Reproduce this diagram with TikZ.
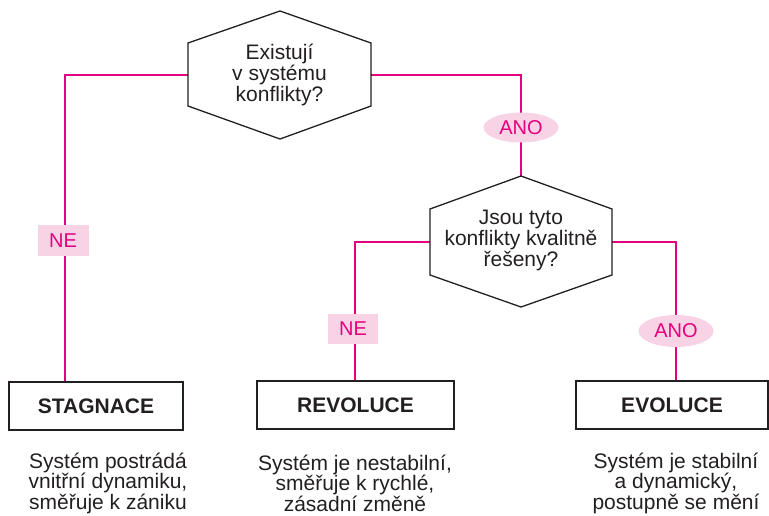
\documentclass[tikz,border=0pt]{standalone}
\usepackage{fontspec}
\setmainfont{Liberation Sans}
\usetikzlibrary{shapes.geometric}
\definecolor{mag}{HTML}{E5007D}
\definecolor{pinkfill}{HTML}{F8D3E6}
\definecolor{ink}{HTML}{231F20}
\begin{document}
\begin{tikzpicture}[x=1pt,y=-1pt,
  conn/.style={draw=mag, line width=1.6pt},
  hexa/.style={draw=ink, line width=1.3pt, line join=miter},
  qtext/.style={align=center, font=\fontsize{21}{21}\selectfont, text=ink, inner sep=0pt},
  result/.style={draw=ink, line width=1.5pt, minimum height=48pt, inner sep=0pt, font=\fontsize{21}{25}\selectfont\bfseries, text=ink},
  desc/.style={align=center, font=\fontsize{21}{20.5}\selectfont, text=ink, inner sep=0pt},
  nolab/.style={fill=pinkfill, text=mag, font=\fontsize{20}{24}\selectfont, minimum width=51pt, minimum height=31pt, inner sep=0pt},
  yeslab/.style={ellipse, fill=pinkfill, text=mag, font=\fontsize{20}{24}\selectfont, minimum width=75pt, minimum height=30pt, inner sep=0pt},
]
\useasboundingbox (0,0) rectangle (769,515);
% hexagon 1
\coordinate (h1t) at (280,11);
\coordinate (h1ne) at (371,43);
\coordinate (h1se) at (371,106);
\coordinate (h1b) at (280,139);
\coordinate (h1sw) at (188,106);
\coordinate (h1nw) at (188,43);
\coordinate (h1w) at (188,75);
\coordinate (h1e) at (371,75);
% hexagon 2
\coordinate (h2t) at (521,176);
\coordinate (h2ne) at (612,209);
\coordinate (h2se) at (612,275);
\coordinate (h2b) at (521,307);
\coordinate (h2sw) at (430,275);
\coordinate (h2nw) at (430,209);
\coordinate (h2w) at (430,242);
\coordinate (h2e) at (612,242);
% corner coordinates of connectors
\coordinate (c1) at (65,75);
\coordinate (c2) at (521,75);
\coordinate (c3) at (355,242);
\coordinate (c4) at (676,242);
% result boxes
\node[result, minimum width=174pt] (stag) at (96,406) {STAGNACE};
\node[result, minimum width=197pt] (rev) at (355.5,405) {REVOLUCE};
\node[result, minimum width=192pt] (evo) at (672,405) {EVOLUCE};
% connectors
\draw[conn] (h1w) -- (c1) -- (c1 |- stag.north);
\draw[conn] (h1e) -- (c2) -- (h2t);
\draw[conn] (h2w) -- (c3) -- (c3 |- rev.north);
\draw[conn] (h2e) -- (c4) -- (c4 |- evo.north);
% hexagons
\draw[hexa] (h1t) -- (h1ne) -- (h1se) -- (h1b) -- (h1sw) -- (h1nw) -- cycle;
\draw[hexa] (h2t) -- (h2ne) -- (h2se) -- (h2b) -- (h2sw) -- (h2nw) -- cycle;
\node[qtext] (q1) at (279.5,75) {Existují\\v systému\\konflikty?};
\node[qtext] (q2) at (521,240) {Jsou tyto\\konflikty kvalitně\\řešeny?};
% labels
\node[nolab] (ne1) at (63,240.5) {NE};
\node[yeslab] (ano1) at (521,127.5) {ANO};
\node[nolab, minimum width=50pt, minimum height=30pt] (ne2) at (353,329) {NE};
\node[yeslab, minimum height=32pt] (ano2) at (676,331) {ANO};
% descriptions
\node[desc] (d1) at (108,483) {Systém postrádá\\vnitřní dynamiku,\\směřuje k zániku};
\node[desc] (d2) at (355,483) {Systém je nestabilní,\\směřuje k rychlé,\\zásadní změně};
\node[desc] (d3) at (676,483) {Systém je stabilní\\a dynamický,\\postupně se mění};
\end{tikzpicture}
\end{document}
